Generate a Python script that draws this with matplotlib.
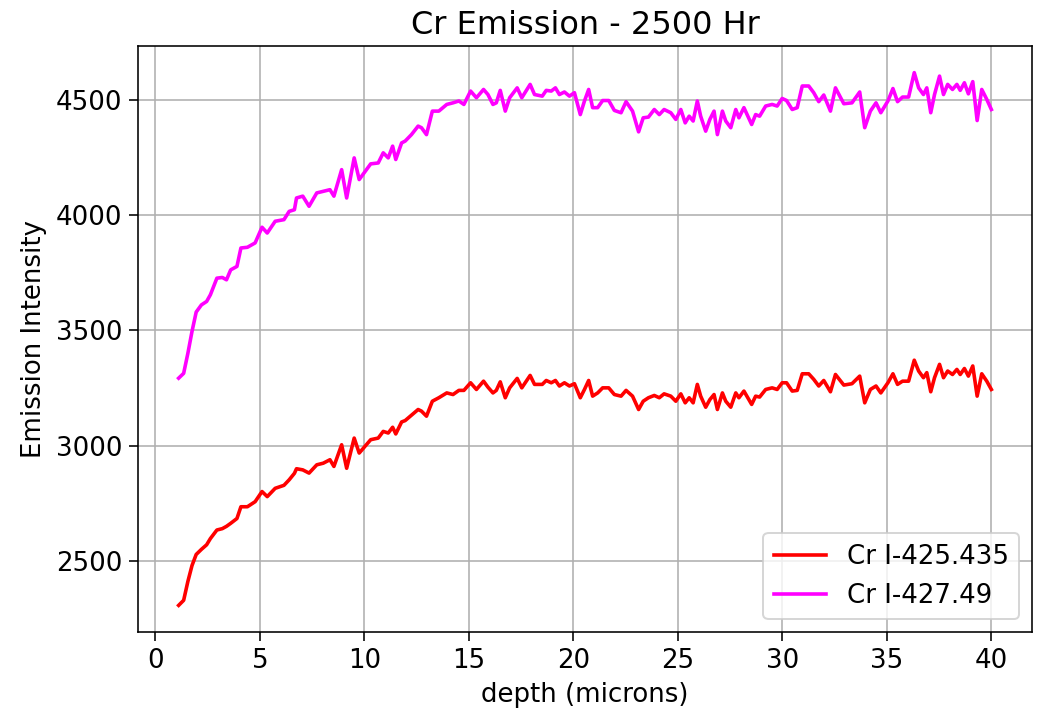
import matplotlib
matplotlib.use("Agg")
import matplotlib.pyplot as plt

# depth (microns), shared by both lines
depth = [1.11, 1.35, 1.55, 1.75, 1.95, 2.2, 2.45, 2.63, 2.94, 3.2, 3.4, 3.6, 3.9, 4.09, 4.4,
         4.77, 5.1, 5.35, 5.73, 6.15, 6.4, 6.65, 6.75, 7.05, 7.35, 7.72, 8.03, 8.35, 8.54,
         8.91, 9.15, 9.51, 9.75, 10.3,
         10.66, 10.90, 11.14, 11.35, 11.50, 11.78, 11.95, 12.25, 12.57, 12.73, 12.97, 13.25,
         13.56, 13.94, 14.24, 14.52, 14.76, 15.08, 15.36, 15.70, 15.91, 16.15, 16.31, 16.50,
         16.74, 16.95, 17.31, 17.53, 17.93, 18.14, 18.51, 18.70, 18.94, 19.14, 19.33, 19.57,
         19.81, 20.05,
         20.33, 20.53, 20.73, 20.92, 21.16, 21.40, 21.69, 21.96, 22.28, 22.52, 22.83, 23.12,
         23.34, 23.59, 23.87, 24.11, 24.34, 24.66, 24.90, 25.14, 25.35, 25.54, 25.73, 25.93,
         26.09, 26.33, 26.53, 26.73, 26.89, 27.13, 27.29, 27.53, 27.77, 27.92, 28.16, 28.53,
         28.72, 28.91, 29.20, 29.51, 29.75, 29.99,
         30.2, 30.47, 30.71, 30.95, 31.26, 31.50, 31.74, 31.98, 32.30, 32.54, 32.94, 33.33,
         33.70, 33.94, 34.21, 34.48, 34.71, 35.05, 35.29, 35.51, 35.75, 36.04, 36.31, 36.52,
         36.75, 36.91, 37.10, 37.28, 37.52, 37.71, 37.91, 38.14, 38.35, 38.51, 38.71, 38.90,
         39.11, 39.32, 39.54, 39.78, 40.0]

cr_425 = [2307, 2329, 2410, 2480, 2528, 2550, 2570, 2597, 2634, 2640, 2650, 2663, 2684, 2735,
          2735, 2757, 2801, 2779, 2815, 2828, 2852, 2880, 2900, 2895, 2881, 2917, 2924, 2939,
          2910, 3004, 2902, 3033, 2968, 3026,
          3033, 3062, 3055, 3080, 3051, 3103, 3109, 3132, 3157, 3150, 3128, 3193, 3208, 3229,
          3222, 3240, 3240, 3273, 3244, 3280, 3254, 3229, 3240, 3277, 3208, 3251, 3292, 3251,
          3305, 3266, 3266, 3283, 3273, 3283, 3259, 3273, 3259, 3269,
          3208, 3244, 3283, 3215, 3229, 3251, 3251, 3222, 3215, 3240, 3215, 3157, 3193, 3208,
          3218, 3208, 3225, 3215, 3193, 3225, 3186, 3208, 3186, 3266, 3215, 3167, 3200, 3222,
          3157, 3229, 3193, 3167, 3229, 3208, 3237, 3179, 3215, 3211, 3244, 3251, 3244, 3273,
          3273, 3237, 3240, 3312, 3312, 3288, 3259, 3283, 3234, 3309, 3263, 3269, 3302, 3186,
          3244, 3259, 3229, 3273, 3312, 3266, 3280, 3280, 3371, 3324, 3295, 3317, 3234, 3295,
          3353, 3295, 3324, 3309, 3331, 3309, 3335, 3302, 3346, 3215, 3312, 3280, 3244]

cr_427 = [3293, 3314, 3400, 3496, 3580, 3611, 3626, 3655, 3727, 3730, 3720, 3763, 3778, 3858,
          3861, 3880, 3948, 3923, 3974, 3981, 4017, 4024, 4075, 4083, 4039, 4097, 4104, 4111,
          4083, 4198, 4075, 4249, 4155, 4223,
          4227, 4271, 4249, 4300, 4242, 4314, 4322, 4350, 4387, 4380, 4350, 4452, 4452, 4481,
          4488, 4496, 4481, 4539, 4510, 4546, 4524, 4481, 4488, 4542, 4452, 4510, 4553, 4510,
          4568, 4524, 4517, 4542, 4539, 4553, 4524, 4535, 4517, 4532,
          4437, 4496, 4546, 4467, 4467, 4498, 4498, 4455, 4445, 4493, 4452, 4362, 4423, 4426,
          4459, 4437, 4459, 4445, 4416, 4459, 4401, 4430, 4409, 4496, 4430, 4365, 4416, 4452,
          4350, 4452, 4409, 4380, 4459, 4423, 4467, 4394, 4437, 4430, 4474, 4481, 4474, 4507,
          4498, 4459, 4467, 4561, 4561, 4532, 4493, 4522, 4452, 4553, 4484, 4488, 4535, 4380,
          4452, 4488, 4445, 4496, 4550, 4493, 4513, 4513, 4619, 4553, 4524, 4553, 4445, 4524,
          4604, 4524, 4568, 4546, 4568, 4542, 4575, 4527, 4580, 4411, 4546, 4503, 4459]

labels = ["Cr I-425.435", "Cr I-427.49"]

plt.rcParams["font.size"] = 13
plt.rcParams["xtick.major.size"] = 4.5
plt.rcParams["ytick.major.size"] = 4.5

fig = plt.figure(figsize=(1037 / 144, 723 / 144), dpi=144)
plt.subplots_adjust(left=138 / 1037, right=1032 / 1037, top=1 - 46 / 723, bottom=1 - 632 / 723)

plt.plot(depth, cr_425, color="red", linewidth=1.8, label=labels[0])
plt.plot(depth, cr_427, color="magenta", linewidth=1.8, label=labels[1])
plt.grid()
plt.xlabel("depth (microns)")
plt.ylabel("Emission Intensity")
plt.title("Cr Emission - 2500 Hr", fontsize=16)
plt.legend(loc="lower right")

plt.savefig("out.png", dpi=144)
